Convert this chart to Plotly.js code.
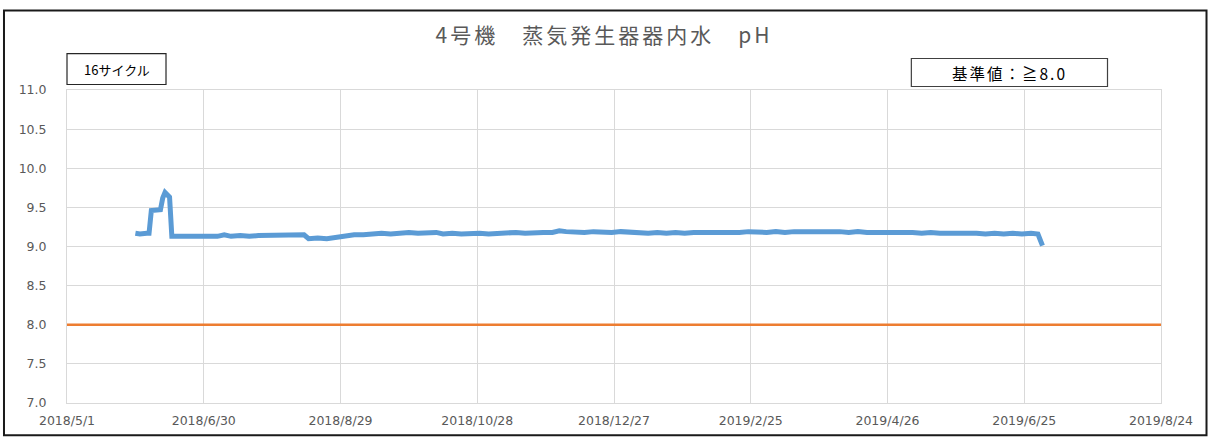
<!DOCTYPE html>
<html>
<head>
<meta charset="utf-8">
<script src="https://cdn.plot.ly/plotly-3.0.1.min.js"></script>
<style>
html,body{margin:0;padding:0;background:#fff;}
#chart{width:1208px;height:437px;}
.gtitle{letter-spacing:3px;}
g.annotation[data-index="1"] text{letter-spacing:2px;}
</style>
</head>
<body>
<div id="chart"></div>
<script>
const chartTitle = "4号機　蒸気発生器器内水　pH";
const cycleLabel = "16サイクル";
const standardLabel = "基準値：≧8.0";

const phDates = [
"2018-05-31","2018-06-02","2018-06-05","2018-06-06","2018-06-07","2018-06-09","2018-06-11","2018-06-12",
"2018-06-13","2018-06-14","2018-06-15","2018-06-16","2018-06-20","2018-06-24","2018-06-28","2018-07-02",
"2018-07-06","2018-07-09","2018-07-12","2018-07-16","2018-07-20","2018-07-24","2018-07-28","2018-08-01",
"2018-08-05","2018-08-09","2018-08-13","2018-08-15","2018-08-19","2018-08-23","2018-08-27","2018-08-31",
"2018-09-04","2018-09-08","2018-09-12","2018-09-16","2018-09-20","2018-09-24","2018-09-28","2018-10-02",
"2018-10-06","2018-10-10","2018-10-13","2018-10-17","2018-10-21","2018-10-25","2018-10-29","2018-11-02",
"2018-11-06","2018-11-10","2018-11-14","2018-11-18","2018-11-22","2018-11-26","2018-11-30","2018-12-03",
"2018-12-06","2018-12-10","2018-12-14","2018-12-18","2018-12-22","2018-12-26","2018-12-30","2019-01-03",
"2019-01-07","2019-01-11","2019-01-15","2019-01-19","2019-01-23","2019-01-27","2019-01-31","2019-02-04",
"2019-02-08","2019-02-12","2019-02-16","2019-02-20","2019-02-24","2019-02-28","2019-03-04","2019-03-08",
"2019-03-12","2019-03-16","2019-03-20","2019-03-24","2019-03-28","2019-04-01","2019-04-05","2019-04-09",
"2019-04-13","2019-04-17","2019-04-21","2019-04-25","2019-04-29","2019-05-03","2019-05-07","2019-05-11",
"2019-05-15","2019-05-19","2019-05-23","2019-05-27","2019-05-31","2019-06-04","2019-06-08","2019-06-12",
"2019-06-16","2019-06-20","2019-06-24","2019-06-28","2019-07-01","2019-07-03"
];
const phValues = [
9.17,9.16,9.17,9.17,9.46,9.46,9.47,9.62,
9.69,9.66,9.63,9.13,9.13,9.14,9.13,9.14,
9.13,9.15,9.13,9.14,9.13,9.14,9.14,9.15,
9.14,9.15,9.15,9.10,9.11,9.10,9.12,9.14,
9.15,9.15,9.16,9.17,9.16,9.17,9.18,9.17,
9.18,9.18,9.16,9.17,9.16,9.17,9.17,9.16,
9.17,9.17,9.18,9.17,9.18,9.18,9.18,9.20,
9.19,9.18,9.18,9.19,9.18,9.18,9.19,9.18,
9.18,9.17,9.18,9.17,9.18,9.17,9.18,9.18,
9.17,9.18,9.18,9.18,9.19,9.18,9.18,9.19,
9.18,9.19,9.19,9.19,9.20,9.19,9.19,9.18,
9.19,9.18,9.18,9.18,9.19,9.18,9.18,9.17,
9.18,9.17,9.17,9.18,9.17,9.17,9.16,9.17,
9.16,9.17,9.16,9.17,9.16,9.01
];

const standardDates = ["2018-05-01","2019-08-24"];
const standardValues = [8.0, 8.0];

const xRange = ["2018-05-01","2019-08-24"];
const yRange = [7.0, 11.0];

const traces = [
  {x: standardDates, y: standardValues, type: "scatter", mode: "lines",
   line: {color: "#ED7D31", width: 2.5}, hoverinfo: "skip", showlegend: false},
  {x: phDates, y: phValues, type: "scatter", mode: "lines",
   line: {color: "#5B9BD5", width: 5}, showlegend: false}
];

const tickFont = {family: "DejaVu Sans, Verdana, sans-serif", size: 12.5, color: "#595959"};
const cjk = "Noto Sans CJK JP, sans-serif";

const layout = {
  width: 1208, height: 437,
  margin: {l: 67, r: 47, t: 90, b: 34, pad: 0},
  paper_bgcolor: "#ffffff", plot_bgcolor: "#ffffff",
  showlegend: false,
  title: {text: chartTitle, x: 0.5, xref: "container", y: 1 - 36/437, yref: "container",
          xanchor: "center", yanchor: "middle",
          font: {family: cjk, size: 21, color: "#595959"}},
  xaxis: {type: "date", range: xRange, tick0: "2018-05-01", dtick: 60*86400000,
          tickformat: "%Y/%-m/%-d", showgrid: true, gridcolor: "#D9D9D9", gridwidth: 1,
          showline: true, mirror: true, linecolor: "#D9D9D9", linewidth: 1,
          ticks: "", tickfont: tickFont, ticklabelstandoff: 6, zeroline: false, fixedrange: true},
  yaxis: {range: yRange, dtick: 0.5, tick0: 7, tickformat: ".1f",
          showgrid: true, gridcolor: "#D9D9D9", gridwidth: 1,
          showline: true, mirror: true, linecolor: "#D9D9D9", linewidth: 1,
          ticks: "", tickfont: tickFont, ticklabelstandoff: 17, zeroline: false, fixedrange: true},
  shapes: [
    {type: "rect", xref: "paper", yref: "paper", x0: -0.0576, x1: 1.0416, y0: -0.1031, y1: 1.2538,
     line: {color: "#1a1a1a", width: 2}, fillcolor: "rgba(0,0,0,0)", layer: "above"},
    {type: "rect", xref: "paper", yref: "paper", x0: 0.0, x1: 0.0905, y0: 1.0175, y1: 1.1165,
     line: {color: "#262626", width: 1.2}, fillcolor: "#ffffff", layer: "above"},
    {type: "rect", xref: "paper", yref: "paper", x0: 0.7718, x1: 0.9511, y0: 1.0112, y1: 1.1006,
     line: {color: "#404040", width: 1.2}, fillcolor: "#ffffff", layer: "above"}
  ],
  annotations: [
    {text: cycleLabel, xref: "paper", yref: "paper", x: 0.0453, y: 1.067,
     xanchor: "center", yanchor: "middle", showarrow: false,
     font: {family: cjk, size: 13, color: "#000000"}},
    {text: standardLabel, xref: "paper", yref: "paper", x: 0.8614, y: 1.0559,
     xanchor: "center", yanchor: "middle", showarrow: false,
     font: {family: cjk, size: 15.5, color: "#000000"}}
  ]
};

Plotly.newPlot("chart", traces, layout, {displayModeBar: false, staticPlot: true});
</script>
</body>
</html>
